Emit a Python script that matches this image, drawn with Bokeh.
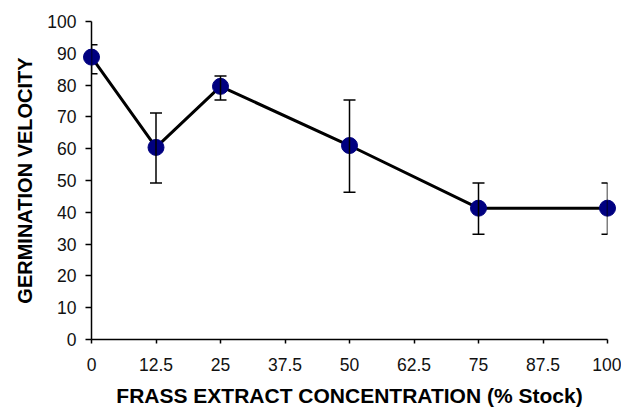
from bokeh.plotting import figure
from bokeh.models import ColumnDataSource, Whisker, TeeHead, FixedTicker, Range1d
from bokeh.embed import file_html
from bokeh.resources import INLINE

concentration = [0, 12.5, 25, 50, 75, 100]
velocity = [88.8, 60.4, 79.6, 61.0, 41.3, 41.3]
err_upper = [92.7, 71.2, 82.9, 75.3, 49.2, 49.2]
err_lower = [83.6, 49.2, 75.3, 46.3, 33.1, 33.1]
x_ticks = [0, 12.5, 25, 37.5, 50, 62.5, 75, 87.5, 100]
x_tick_labels = ["0", "12.5", "25", "37.5", "50", "62.5", "75", "87.5", "100"]
y_ticks = [0, 10, 20, 30, 40, 50, 60, 70, 80, 90, 100]

src = ColumnDataSource(dict(x=concentration, y=velocity, upper=err_upper, lower=err_lower))

FONT = "Liberation Sans"

p = figure(width=621, height=409, output_backend="svg", toolbar_location=None,
           x_range=Range1d(0, 100), y_range=Range1d(0, 100),
           min_border_left=91, min_border_right=14, min_border_top=21, min_border_bottom=68)
p.outline_line_color = None
p.xgrid.visible = False
p.ygrid.visible = False
p.background_fill_color = "white"
p.border_fill_color = "white"

p.line("x", "y", source=src, line_color="black", line_width=3)

wh = Whisker(base="x", upper="upper", lower="lower", source=src,
             line_color="black", line_width=1.5, level="overlay",
             upper_head=TeeHead(size=12, line_color="black", line_width=1.5),
             lower_head=TeeHead(size=12, line_color="black", line_width=1.5))
p.add_layout(wh)

r = p.scatter("x", "y", source=src, size=16, fill_color="#000080", line_color="#000080")
r.level = "overlay"

p.xaxis.ticker = FixedTicker(ticks=x_ticks)
p.xaxis.major_label_overrides = {t: l for t, l in zip(x_ticks, x_tick_labels)}
p.yaxis.ticker = FixedTicker(ticks=y_ticks)

for ax in (p.xaxis[0], p.yaxis[0]):
    ax.axis_line_color = "black"
    ax.axis_line_width = 1.5
    ax.major_tick_line_color = "black"
    ax.major_tick_line_width = 1.5
    ax.major_tick_in = 0
    ax.minor_tick_line_color = None
    ax.major_label_text_font = FONT
    ax.major_label_text_font_size = "17.5px"
    ax.major_label_text_color = "#111111"
    ax.axis_label_text_font = FONT
    ax.axis_label_text_font_style = "bold"
    ax.axis_label_text_color = "black"

p.xaxis.axis_label_text_font_size = "21px"
p.yaxis.axis_label_text_font_size = "20px"
p.xaxis.major_tick_out = 4
p.yaxis.major_tick_out = 6
p.xaxis.major_label_standoff = 14
p.yaxis.major_label_standoff = 9
p.xaxis.axis_label = "FRASS EXTRACT CONCENTRATION (% Stock)"
p.yaxis.axis_label = "GERMINATION VELOCITY"
p.xaxis.axis_label_standoff = 10
p.yaxis.axis_label_standoff = 8

open("out.html", "w").write(file_html(p, INLINE))
